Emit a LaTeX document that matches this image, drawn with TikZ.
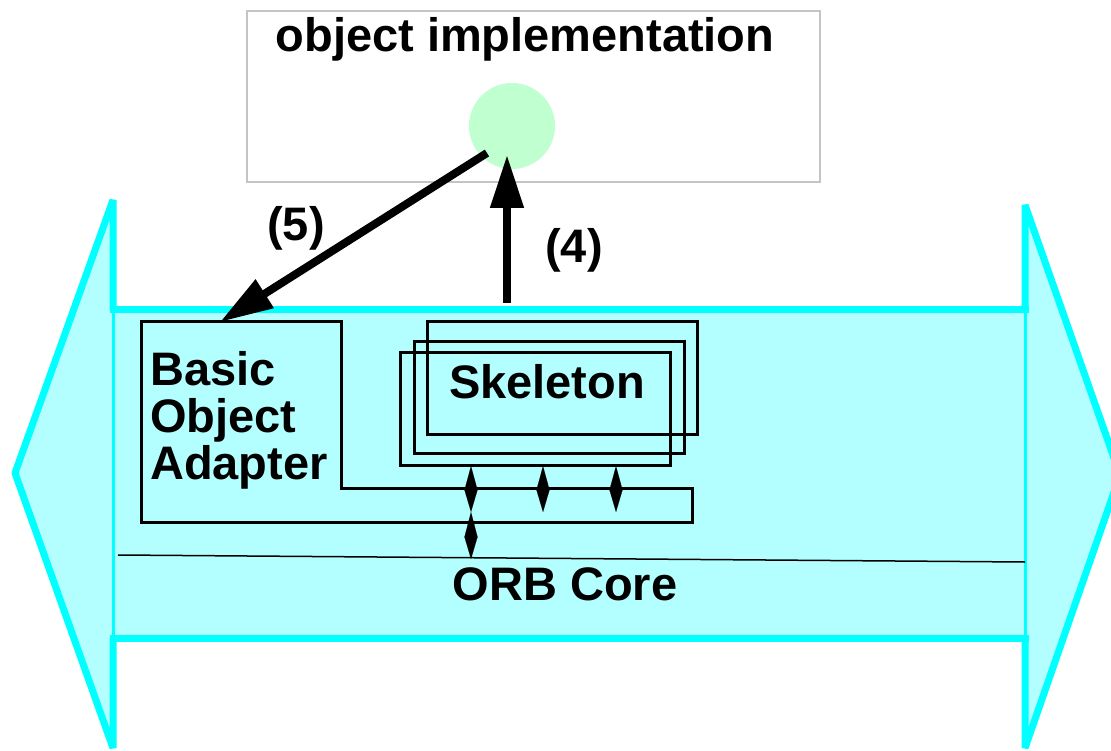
\documentclass[tikz,border=0pt]{standalone}
\usepackage{fontspec}
\setmainfont{Liberation Sans}
\usetikzlibrary{arrows.meta}
\definecolor{orbline}{HTML}{00FFFF}
\definecolor{orbfill}{HTML}{B3FFFF}
\definecolor{servantfill}{HTML}{C0FFD0}
\definecolor{implframe}{HTML}{C4C4C4}
\tikzset{
  lbl/.style={font=\fontsize{47}{47}\selectfont\bfseries, inner sep=0pt},
  frame/.style={draw=black, line width=3pt},
  bandedge/.style={draw=orbline, line width=7pt, line join=bevel},
  bandinner/.style={draw=orbline, line width=3pt},
  call/.style={line width=8pt, -{Triangle[length=53pt,width=32pt]}},
  link/.style={line width=0.1pt, -{Triangle[length=#1,width=13pt]}},
}
\begin{document}
\begin{tikzpicture}[x=1pt,y=-1pt]
\useasboundingbox (0,0) rectangle (1111,751);

% ORB band: a double-headed arrow
\fill[orbfill] (113,200) -- (113,310) -- (1025,310) -- (1025,205) -- (1120,475)
  -- (1025,748) -- (1025,638) -- (113,638) -- (113,748) -- (15,473) -- cycle;
\draw[bandinner] (113,310) -- (113,638);
\draw[bandinner] (1025,310) -- (1025,638);
\draw[bandedge] (113,310) -- (113,200) -- (15,473) -- (113,748) -- (113,638);
\draw[bandedge] (1025,310) -- (1025,205) -- (1120,475) -- (1025,748) -- (1025,638);
\draw[bandedge] (109.5,310) -- (1028.5,310);
\draw[bandedge] (109.5,638) -- (1028.5,638);

% boundary between adapter layer and ORB core
\coordinate (coreL) at (118,555);
\coordinate (coreR) at (1025,562);
\draw[line width=1.5pt] (coreL) -- (coreR);
\node[lbl, anchor=base] (core) at (565,600) {ORB Core};

% object implementation
\node[draw=implframe, line width=2.5pt, minimum width=573pt, minimum height=171pt,
      inner sep=0pt] (impl) at (533.5,96.5) {};
\node[lbl, anchor=base] (impltext) at (525,52) {object implementation};
\node[fill=servantfill, circle, minimum size=86pt, inner sep=0pt] (servant) at (512,126) {};

% Basic Object Adapter
\draw[frame] (141,322) -- (341,322) -- (341,488) -- (692,488) -- (692,522) -- (141,522) -- cycle;
\node[lbl, anchor=north west, align=left] (boa) at (150,351) {Basic\\Object\\Adapter};

% Skeletons
\draw[frame] (427,322) rectangle (697,434);
\draw[frame] (414,341) rectangle (684,453);
\draw[frame] (400,352) rectangle (670,465);
\node[lbl, anchor=base] (skel) at (547,398) {Skeleton};

% links between skeletons, adapter and core
\foreach \x/\n in {471/a,543/b,616/c}{
  \coordinate (up\n) at (\x,466);
  \coordinate (mid\n) at (\x,490);
  \coordinate (dn\n) at (\x,512);
  \draw[link=24pt] (mid\n) -- (up\n);
  \draw[link=22pt] (mid\n) -- (dn\n);
}
\coordinate (lowmid) at (471,537);
\coordinate (lowdn) at (471,559);
\draw[link=25pt] (lowmid) -- (dna);
\draw[link=22pt] (lowmid) -- (lowdn);

% upcall (4) and return (5)
\coordinate (skelout) at (507,303);
\coordinate (servin) at (507,155);
\draw[call] (skelout) -- (servin);
\node[lbl] (n4) at (574,250) {(4)};

\coordinate (servout) at (487,153);
\coordinate (boain) at (220,322);
\draw[call] (servout) -- (boain);
\node[lbl] (n5) at (296,228) {(5)};
\end{tikzpicture}
\end{document}
